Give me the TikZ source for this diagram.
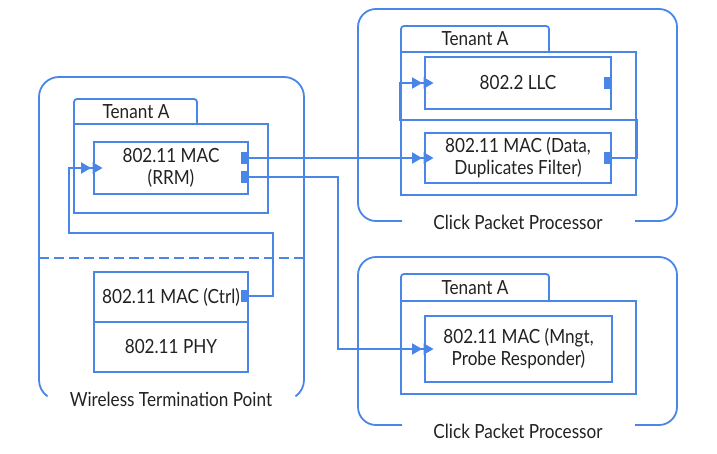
\documentclass[tikz,border=0pt]{standalone}
\usepackage{fontspec}
\setmainfont{Lato}[FakeStretch=0.88]
\usetikzlibrary{arrows.meta}
\definecolor{bl}{HTML}{4A86E8}
\definecolor{tx}{HTML}{222222}
\begin{document}
\begin{tikzpicture}[x=1pt,y=1pt,
  ln/.style={draw=bl, line width=1.8pt},
  box/.style={ln, fill=white, inner sep=0pt, align=center, text=tx,
    font=\fontsize{19.5}{22}\selectfont},
  port/.style={fill=bl, draw=none, inner sep=0pt, minimum width=7, minimum height=12},
  lbl/.style={text=tx, inner sep=0pt, anchor=base, font=\fontsize{19.5}{22}\selectfont},
  conn/.style={ln, -{Triangle[length=10pt,width=11pt,sep=1.5pt]Triangle[length=10pt,width=11pt]}, shorten >=-9.5pt}
]
\useasboundingbox (0,0) rectangle (717,453);

% ---- Wireless Termination Point (left) ----
\draw[ln, rounded corners=20] (39,73) -- (39,376) -- (304,376) -- (304,73);
\draw[ln] (39,73) arc[start angle=180, end angle=235, radius=20];
\draw[ln] (304,73) arc[start angle=0, end angle=-55, radius=20];
\node[lbl] (wtp) at (171,47) {Wireless Termination Point};
\draw[ln, dash pattern=on 10pt off 5pt] (39,195) -- (304,195);

\draw[ln, rounded corners=3] (74,329) -- (74,354) -- (197,354) -- (197,329);
\node[lbl] (tenL) at (136,334) {Tenant A};
\node[box, minimum width=194, minimum height=89] (contL) at (171,284.5) {};
\node[box, minimum width=154, minimum height=52] (rrm) at (171,285) {802.11 MAC\\(RRM)};
\node[port] (rrmp1) at (244.5,295) {};
\node[port] (rrmp2) at (244.5,276) {};

\node[box, minimum width=154, minimum height=50] (ctrl) at (171,156) {802.11 MAC (Ctrl)};
\node[box, minimum width=154, minimum height=50] (phy) at (171,106) {802.11 PHY};
\node[port] (ctrlp) at (244.5,157) {};

% ---- Click Packet Processor (top right) ----
\draw[ln, rounded corners=18] (402,232) -- (358,232) -- (358,444) -- (677,444) -- (677,232) -- (635,232);
\node[lbl] (cppT) at (518,223) {Click Packet Processor};
\draw[ln, rounded corners=3] (401,401) -- (401,427) -- (549,427) -- (549,401);
\node[lbl] (tenT) at (475,407) {Tenant A};
\node[box, minimum width=235, minimum height=143] (contT) at (518.5,329.5) {};
\node[box, minimum width=186, minimum height=52] (llc) at (518,370) {802.2 LLC};
\node[port] (llcp) at (607.5,370) {};
\node[box, minimum width=186, minimum height=50] (data) at (518,295) {802.11 MAC (Data,\\Duplicates Filter)};
\node[port] (datap) at (607.5,295) {};

% ---- Click Packet Processor (bottom right) ----
\draw[ln, rounded corners=18] (402,28) -- (358,28) -- (358,196) -- (677,196) -- (677,28) -- (635,28);
\node[lbl] (cppB) at (518,15) {Click Packet Processor};
\draw[ln, rounded corners=3] (401,152) -- (401,179) -- (549,179) -- (549,152);
\node[lbl] (tenB) at (475,159) {Tenant A};
\node[box, minimum width=235, minimum height=93] (contB) at (518.5,105.5) {};
\node[box, minimum width=187, minimum height=66] (mngt) at (518.5,104) {802.11 MAC (Mngt,\\Probe Responder)};

% ---- connectors ----
\coordinate (c1) at (273,220);
\coordinate (c2) at (69,220);
\coordinate (m1) at (338,200);
\coordinate (d1) at (637,333);
\coordinate (d2) at (400,333);

\draw[conn] (rrmp1.east) -- (rrmp1.east -| data.west);
\draw[conn] (rrmp2.east) -| (m1) |- (mngt.west);
\draw[conn] (ctrlp.east) -| (c1) -- (c2) |- (rrm.west);
\draw[conn] (datap.east) -| (d1) -- (d2) |- (llc.west);
\end{tikzpicture}
\end{document}
